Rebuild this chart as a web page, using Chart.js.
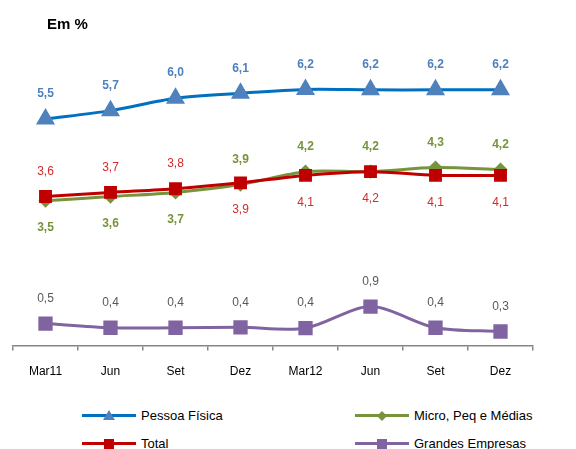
<!DOCTYPE html>
<html>
<head>
<meta charset="utf-8">
<script src="https://cdn.jsdelivr.net/npm/chart.js@4/dist/chart.umd.min.js"></script>
<style>
  body { margin: 0; background: #fff; font-family: 'Liberation Sans', Arial, sans-serif; }
  #wrap { position: relative; width: 576px; height: 449px; }
  #titulo { position: absolute; left: 47px; top: 15px; font-weight: bold; font-size: 15px; color: #000; }
  #box { position: absolute; left: 0; top: 0; width: 576px; height: 400px; }
  .leg { position: absolute; font-size: 13px; color: #000; display: flex; align-items: center; }
  .leg .ln { position: relative; width: 54px; height: 3px; margin-right: 5px; }
  .leg .mk { position: absolute; left: 50%; top: 50%; transform: translate(-50%, -50%); }
</style>
</head>
<body>
<div id="wrap">
  <div id="box"><canvas id="grafico"></canvas></div>
  <div id="titulo">Em %</div>
  <div id="legenda"></div>
</div>
<script>
const meses = ['Mar11', 'Jun', 'Set', 'Dez', 'Mar12', 'Jun', 'Set', 'Dez'];
const pessoaFisica = [5.46, 5.66, 5.96, 6.08, 6.17, 6.16, 6.16, 6.16];
const total = [3.59, 3.69, 3.78, 3.92, 4.10, 4.19, 4.10, 4.10];
const microPeqMedias = [3.49, 3.59, 3.69, 3.88, 4.19, 4.19, 4.29, 4.24];
const grandesEmpresas = [0.53, 0.43, 0.43, 0.44, 0.42, 0.94, 0.43, 0.34];

const posTotal = ['up', 'up', 'up', 'down', 'down', 'down', 'down', 'down'];
const posMicro = ['down', 'down', 'down', 'up', 'up', 'up', 'up', 'up'];

const fmt = v => v.toFixed(1).replace('.', ',');

// rótulos de valor em cada ponto
const rotulos = {
  id: 'rotulos',
  afterDatasetsDraw(chart) {
    const ctx = chart.ctx;
    chart.data.datasets.forEach((ds, i) => {
      const meta = chart.getDatasetMeta(i);
      ctx.save();
      ctx.font = (ds.lblBold ? 'bold ' : '') + '12px "Liberation Sans", Arial';
      ctx.fillStyle = ds.lblColor;
      ctx.textAlign = 'center';
      ctx.textBaseline = 'middle';
      meta.data.forEach((pt, j) => {
        const pos = ds.lblPos ? ds.lblPos[j] : 'up';
        const dy = pos === 'up' ? -25 : 27;
        ctx.fillText(fmt(ds.data[j]), pt.x, pt.y + dy);
      });
      ctx.restore();
    });
  }
};

const series = [
  {label: 'Pessoa Física', data: pessoaFisica, borderColor: '#0070c0', backgroundColor: '#4f81bd',
   pointStyle: 'triangle', pointRadius: 8, lblColor: '#4f81bd', lblBold: true},
  {label: 'Total', data: total, borderColor: '#c00000', backgroundColor: '#c00000',
   pointStyle: 'rect', pointRadius: 7, lblColor: '#d42a2a', lblBold: false, lblPos: posTotal},
  {label: 'Micro, Peq e Médias', data: microPeqMedias, borderColor: '#77933c', backgroundColor: '#77933c',
   pointStyle: 'rectRot', pointRadius: 5, lblColor: '#77933c', lblBold: true, lblPos: posMicro},
  {label: 'Grandes Empresas', data: grandesEmpresas, borderColor: '#8064a2', backgroundColor: '#8064a2',
   pointStyle: 'rect', pointRadius: 8, lblColor: '#595959', lblBold: false}
];

new Chart(document.getElementById('grafico'), {
  type: 'line',
  data: {
    labels: meses,
    datasets: series.map(s => ({
      ...s,
      pointBackgroundColor: s.backgroundColor,
      pointBorderColor: s.backgroundColor,
      borderWidth: 3,
      tension: 0.3,
      clip: false
    }))
  },
  options: {
    responsive: true,
    maintainAspectRatio: false,
    animation: false,
    events: [],
    layout: {padding: {left: 13, right: 43, top: 55, bottom: 7}},
    plugins: {legend: {display: false}, tooltip: {enabled: false}},
    scales: {
      y: {display: false, min: 0, max: 7},
      x: {
        offset: true,
        border: {color: '#868686', width: 1.5},
        grid: {offset: true, drawOnChartArea: false, drawTicks: true, tickLength: 5, color: '#868686', lineWidth: 1.5},
        ticks: {color: '#000', padding: 14, font: {family: 'Liberation Sans', size: 12}}
      }
    }
  },
  plugins: [rotulos]
});

// legenda em duas colunas: Pessoa Física / Total à esquerda, Micro / Grandes à direita
const legPos = [[82, 408], [82, 436], [355, 408], [355, 436]];
const legenda = document.getElementById('legenda');
series.forEach((s, k) => {
  const [x, y] = legPos[k];
  let mk = '';
  if (s.pointStyle === 'triangle') {
    mk = `<div class="mk" style="width:0;height:0;border-left:6px solid transparent;border-right:6px solid transparent;border-bottom:10px solid ${s.backgroundColor};margin-top:-1px"></div>`;
  } else if (s.pointStyle === 'rectRot') {
    mk = `<div class="mk" style="width:7px;height:7px;background:${s.backgroundColor};transform:translate(-50%,-50%) rotate(45deg)"></div>`;
  } else {
    mk = `<div class="mk" style="width:10px;height:10px;background:${s.backgroundColor}"></div>`;
  }
  legenda.innerHTML += `<div class="leg" style="left:${x}px;top:${y}px"><div class="ln" style="background:${s.borderColor}">${mk}</div>${s.label}</div>`;
});
</script>
</body>
</html>
